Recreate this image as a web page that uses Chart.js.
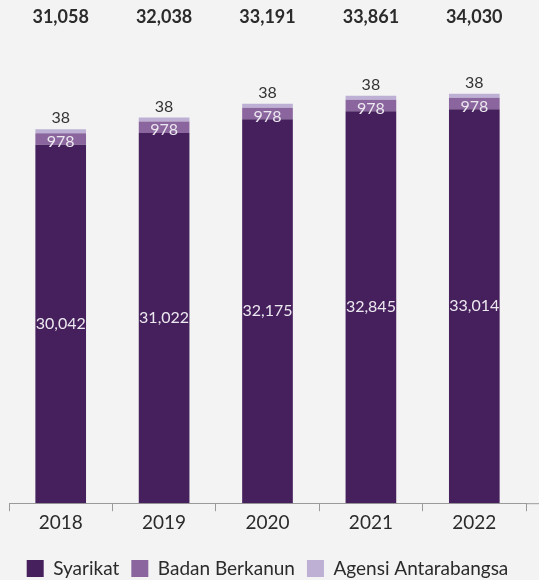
<!DOCTYPE html>
<html>
<head>
<meta charset="utf-8">
<script src="https://cdn.jsdelivr.net/npm/chart.js@4.4.0/dist/chart.umd.min.js"></script>
<style>
  body { margin: 0; background: #f3f3f3; }
  #wrap { width: 539px; height: 580px; position: relative; }
</style>
</head>
<body>
<div id="wrap"><canvas id="chart"></canvas></div>
<script>
const years = ['2018', '2019', '2020', '2021', '2022'];
const syarikat = [30042, 31022, 32175, 32845, 33014];
const badanBerkanun = [978, 978, 978, 978, 978];
const agensiAntarabangsa = [38, 38, 38, 38, 38];
const seriesNames = ['Syarikat', 'Badan Berkanun', 'Agensi Antarabangsa'];

const colors = ['#46205c', '#8b669e', '#bdb0d4'];
const FONT = 'Lato, "Noto Sans", sans-serif';

function fmt(n) {
    return n.toString().replace(/\B(?=(\d{3})+(?!\d))/g, ',');
}

// label angka dalam / atas bar + jumlah di atas
const labelPlugin = {
    id: 'barLabels',
    afterDatasetsDraw(chart) {
        const ctx = chart.ctx;
        ctx.save();
        ctx.textAlign = 'center';
        ctx.textBaseline = 'middle';
        const m0 = chart.getDatasetMeta(0).data;
        const m1 = chart.getDatasetMeta(1).data;
        const m2 = chart.getDatasetMeta(2).data;
        years.forEach((y, i) => {
            ctx.font = '16px ' + FONT;
            ctx.fillStyle = '#ece8f0';
            ctx.fillText(fmt(syarikat[i]), m0[i].x, (m0[i].y + m0[i].base) / 2);
            ctx.fillText(fmt(badanBerkanun[i]), m1[i].x, (m1[i].y + m1[i].base) / 2 + 3);
            ctx.fillStyle = '#333';
            ctx.fillText(fmt(agensiAntarabangsa[i]), m2[i].x, m2[i].y - 11);

            const total = syarikat[i] + badanBerkanun[i] + agensiAntarabangsa[i];
            ctx.font = 'bold 18px ' + FONT;
            ctx.fillStyle = '#2b2b2b';
            ctx.fillText(fmt(total), m0[i].x, 17);
        });
        ctx.restore();
    },
    afterDraw(chart) {
        // garis paksi dipanjangkan ke tepi kanan
        const ctx = chart.ctx;
        const a = chart.chartArea;
        ctx.save();
        ctx.strokeStyle = '#9a9a9a';
        ctx.lineWidth = 1;
        ctx.beginPath();
        ctx.moveTo(a.right, a.bottom + 0.5);
        ctx.lineTo(chart.width, a.bottom + 0.5);
        ctx.stroke();
        ctx.restore();
    }
};

new Chart(document.getElementById('chart'), {
    type: 'bar',
    data: {
        labels: years,
        datasets: [
            { label: seriesNames[0], data: syarikat, backgroundColor: colors[0] },
            { label: seriesNames[1], data: badanBerkanun, backgroundColor: colors[1] },
            { label: seriesNames[2], data: agensiAntarabangsa, backgroundColor: colors[2], minBarLength: 4 }
        ]
    },
    options: {
        responsive: true,
        maintainAspectRatio: false,
        animation: false,
        datasets: {
            bar: { barPercentage: 0.49, categoryPercentage: 1 }
        },
        layout: { padding: { top: 26, left: 9, right: 13, bottom: -8 } },
        plugins: {
            legend: {
                position: 'bottom',
                labels: {
                    boxWidth: 17,
                    boxHeight: 17,
                    padding: 12,
                    color: '#2b2b2b',
                    font: { family: FONT, size: 19 }
                }
            },
            tooltip: { enabled: false }
        },
        scales: {
            x: {
                stacked: true,
                afterFit(scale) {
                    scale.height += 13;
                },
                grid: {
                    offset: true,
                    drawOnChartArea: false,
                    tickLength: 8,
                    color: '#9a9a9a'
                },
                border: { color: '#9a9a9a' },
                ticks: {
                    color: '#2b2b2b',
                    padding: 0,
                    font: { family: FONT, size: 19 }
                }
            },
            y: {
                stacked: true,
                display: false,
                min: 0,
                max: 40000
            }
        }
    },
    plugins: [labelPlugin]
});
</script>
</body>
</html>
